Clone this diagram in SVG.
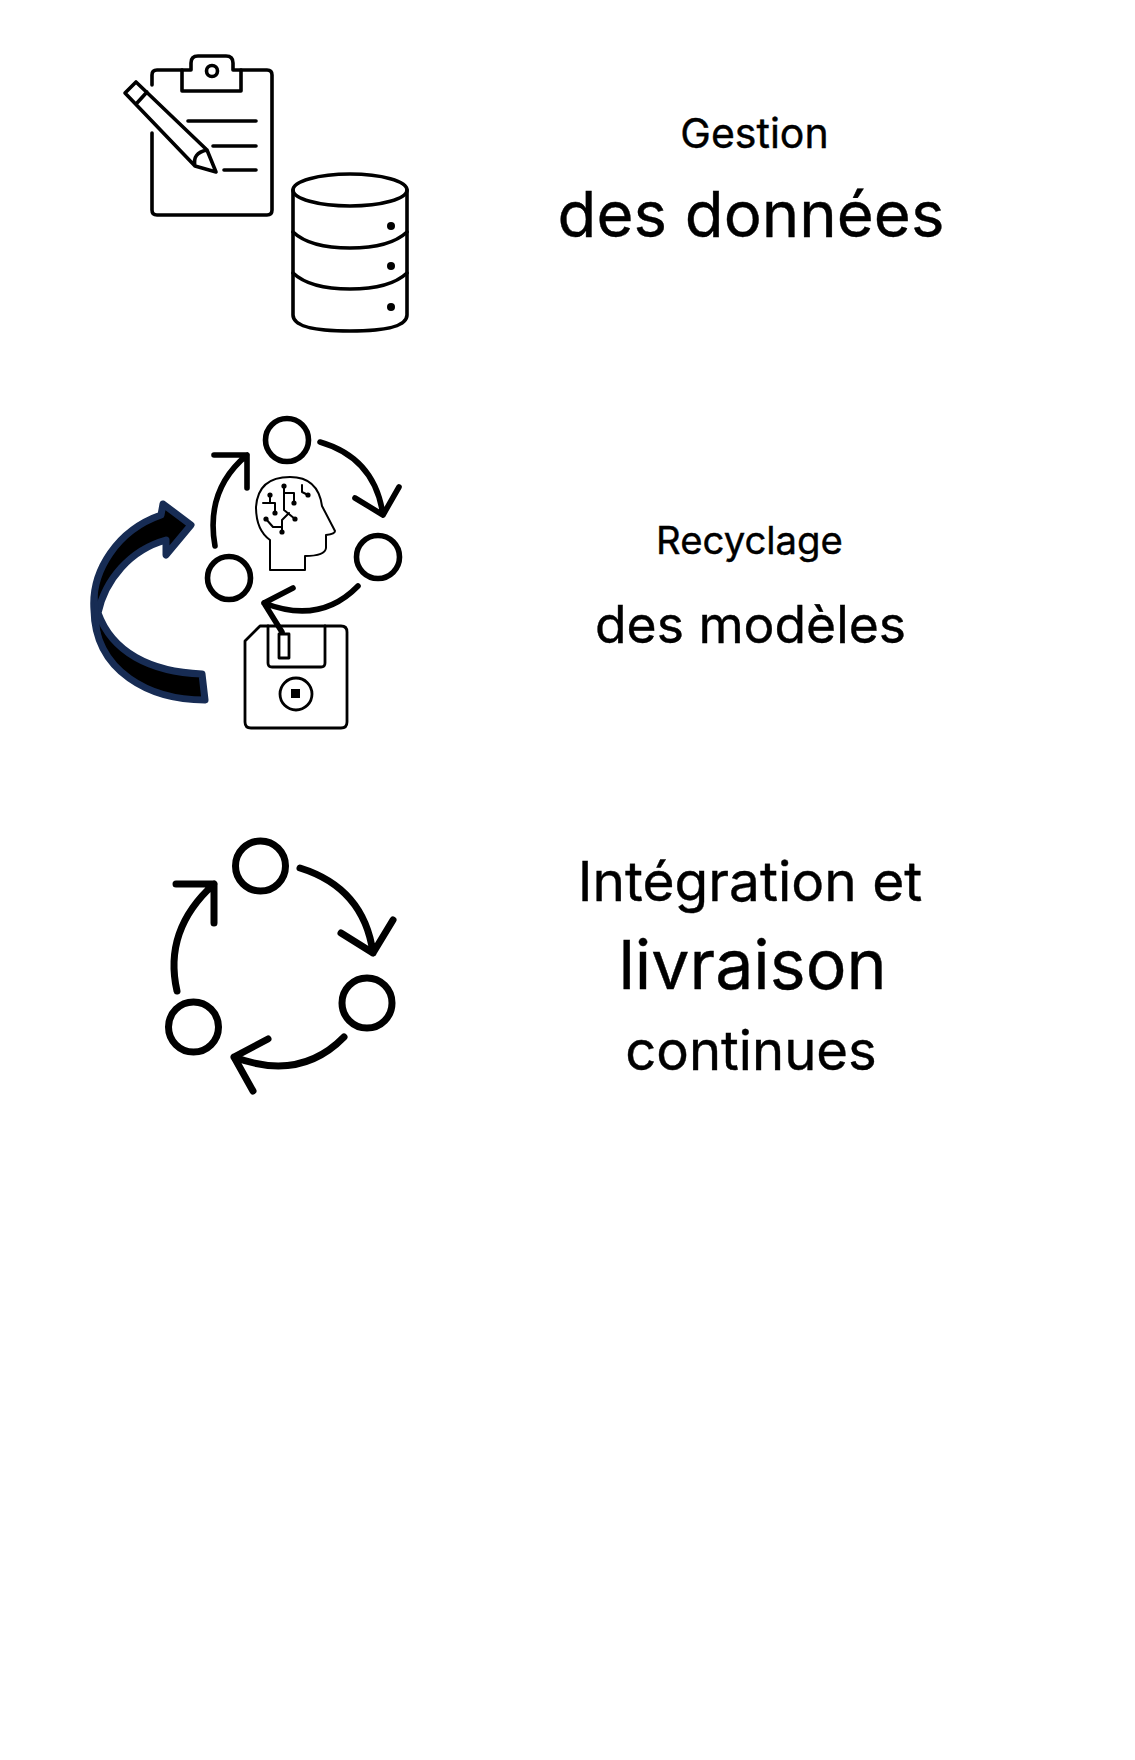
<svg xmlns="http://www.w3.org/2000/svg" width="1135" height="1760" viewBox="0 0 1135 1760">
<style>
.t{font-family:"Inter","Liberation Sans",sans-serif;fill:#000;stroke:#000;stroke-width:.4;text-anchor:middle}
.s{fill:none;stroke:#000;stroke-linecap:round;stroke-linejoin:round}
.s3{stroke-width:3.6}
.s2{stroke-width:2}
.f{stroke-width:2.8}
.c{stroke-width:5.6}
.c6{stroke-width:7}
.d{fill:#000;stroke:none}
</style>
<rect width="1135" height="1760" fill="#fff"/>
<g id="clipboard">
<path class="s s3" d="M152 85V75Q152 70 157 70H182M241 70H267Q272 70 272 75V210Q272 215 267 215H157Q152 215 152 210V133"/>
<path class="s s3" d="M182 70V91H241V70H233V63Q233 56 226 56H198Q191 56 191 63V70Z"/>
<circle class="s s3" cx="212" cy="71" r="5.5"/>
<path class="s s3" d="M188 121H256M213 146H256M224 170H256"/>
<path class="s s3" d="M125 93L136 82L207 150L216 172L195 166ZM137 103L147 92M195 166Q192 153 207 150"/>
</g>
<g id="database">
<ellipse class="s s3" cx="350" cy="190" rx="57" ry="16"/>
<path class="s s3" d="M293 190V315Q293 331 350 331Q407 331 407 315V190"/>
<path class="s s3" d="M293 232Q310 248 350 248Q390 248 407 232M293 273Q310 289 350 289Q390 289 407 273"/>
<circle class="d" cx="391" cy="226" r="4"/>
<circle class="d" cx="391" cy="266" r="4"/>
<circle class="d" cx="391" cy="307" r="4"/>
</g>
<g id="cycle-model">
<circle class="s c" cx="287" cy="440" r="21.5"/>
<circle class="s c" cx="378" cy="557" r="21.5"/>
<circle class="s c" cx="229" cy="578" r="21.5"/>
<path class="s c" d="M320 442Q375 458 383 515M355 498L383 515L399 487"/>
<path class="s c" d="M358 586Q320 625 264 603M293 588L264 603L282 632"/>
<path class="s c" d="M215 546Q205 490 247 455M214 455H247V488"/>
</g>
<g id="head">
<path class="s s2" d="M270 570V540Q256 530 256 507Q258 477 290 477Q318 477 322 506L335 531Q335 534 326 535V548Q325 556 305 556V570Z"/>
<path class="s s2" d="M284 486V510L295 519M284 493H294V503M270 495V503M263 503H275V513M266 519L273 527H282V532M282 527V520L289 513M302 485V492L308 495"/>
<g class="d"><circle cx="284" cy="486" r="2.6"/><circle cx="294" cy="503" r="2.6"/><circle cx="270" cy="495" r="2.6"/><circle cx="275" cy="513" r="2.6"/><circle cx="266" cy="519" r="2.6"/><circle cx="282" cy="532" r="2.6"/><circle cx="295" cy="519" r="2.6"/><circle cx="308" cy="495" r="2.6"/></g>
</g>
<g id="floppy">
<path class="s f" d="M245 641L260 626H341Q347 626 347 632V722Q347 728 341 728H251Q245 728 245 722Z"/>
<path class="s f" d="M268 626V663Q268 667 272 667H321Q325 667 325 663V626"/>
<path class="s f" d="M279 634H289V658H279Z"/>
<circle class="s f" cx="296" cy="694" r="16"/>
<rect class="d" x="291" y="689" width="9" height="9"/>
</g>
<g id="big-arrow">
<path d="M205 700C150 700 95 672 94 610C91 570 118 530 161 515L163 504L191 525L166 555L166 540C130 550 105 580 98 613C112 652 150 672 202 674Z" fill="#000" stroke="#172c54" stroke-width="7" stroke-linejoin="round"/>
<path d="M95 590C97 610 96 625 100 640" fill="none" stroke="#172c54" stroke-width="4"/>
</g>
<g id="cycle-delivery">
<circle class="s c6" cx="260.500" cy="866" r="25"/>
<circle class="s c6" cx="367" cy="1003" r="25"/>
<circle class="s c6" cx="193.500" cy="1027" r="25"/>
<path class="s c6" d="M300 868Q364 888 373 953M341 933L373 953L393 920"/>
<path class="s c6" d="M344 1037Q300 1082 234 1057M268 1039L234 1057L253 1091"/>
<path class="s c6" d="M177 991Q163 930 214 884M176 884H214V923"/>
</g>
<g id="labels">
<text class="t" x="754.500" y="148" font-size="41">Gestion</text>
<text class="t" x="751" y="237" font-size="63.500">des données</text>
<text class="t" x="749.500" y="554" font-size="38.300">Recyclage</text>
<text class="t" x="750.500" y="643" font-size="51.600">des modèles</text>
<text class="t" x="750" y="901" font-size="55">Intégration et</text>
<text class="t" x="752.500" y="989" font-size="68">livraison</text>
<text class="t" x="751" y="1070" font-size="54.400">continues</text>
</g>
</svg>
